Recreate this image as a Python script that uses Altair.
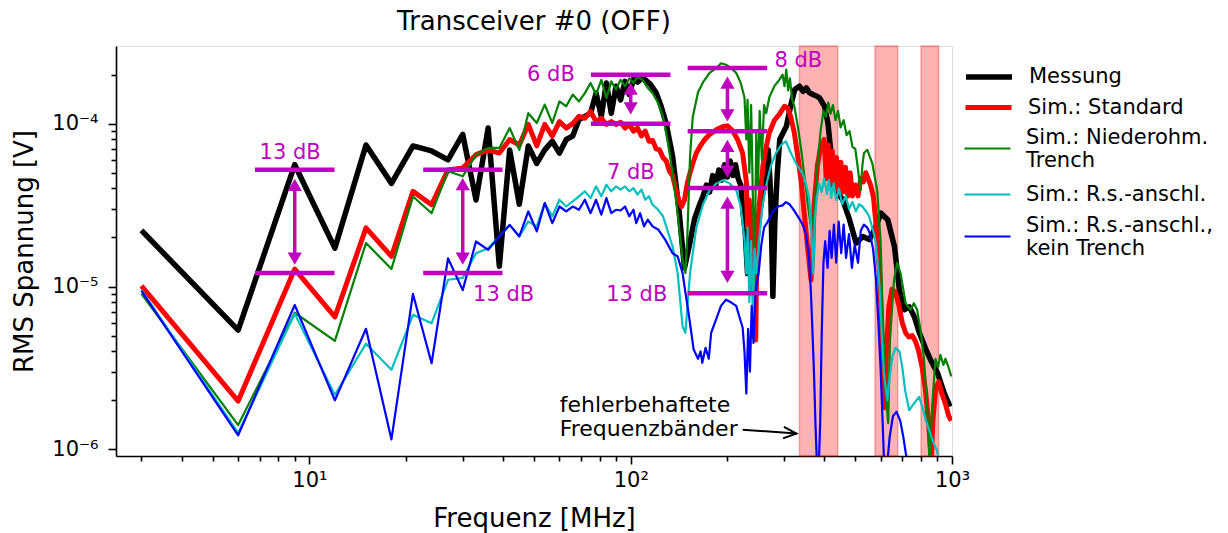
import altair as alt
import pandas as pd

# ---------------- data ----------------
SERIES = ["Messung", "Sim.: Standard", "Sim.: Niederohm.|Trench",
          "Sim.: R.s.-anschl.", "Sim.: R.s.-anschl.,|kein Trench"]
COLORS = ["#000000", "#ff0000", "#008000", "#00bfbf", "#0000ff"]
WIDTHS = [5.5, 5.0, 2.2, 2.2, 2.2]

MESSUNG = [
    (3, 2.21e-5), (6, 5.4e-6), (9, 5.6e-5), (12, 1.72e-5), (15, 7.4e-5), (18, 4.3e-5), (21, 7.3e-5), (24, 6.8e-5),
    (27, 6.0e-5), (30, 8.6e-5), (33, 3.4e-5), (36, 9.4e-5), (39, 1.33e-5), (42, 6.9e-5), (45, 3.2e-5), (48, 7.3e-5),
    (51, 5.7e-5), (54, 6.9e-5), (57, 7.8e-5), (60, 6.6e-5), (63, 8.0e-5), (66, 8.4e-5), (69, 1.06e-4), (72, 1.11e-4),
    (75, 1.16e-4), (78, 1.54e-4), (81, 1.11e-4), (84, 1.78e-4), (87, 1.16e-4), (90, 1.70e-4), (93, 1.40e-4), (96, 1.82e-4),
    (99, 1.51e-4), (102, 1.88e-4), (105, 1.80e-4), (109, 1.92e-4), (115, 1.75e-4), (120, 1.55e-4), (124, 1.30e-4),
    (129, 1.0e-4), (135, 6.3e-5), (141, 3.1e-5), (147, 1.3e-5), (152, 1.76e-5), (158, 2.6e-5), (164, 3.2e-5),
    (168, 3.6e-5), (172, 4.2e-5), (176, 3.8e-5), (180, 4.8e-5), (184, 4.2e-5), (188, 5.2e-5), (192, 4.5e-5),
    (196, 5.6e-5), (200, 4.7e-5), (204, 5.9e-5), (208, 4.8e-5), (212, 5.6e-5), (216, 4.6e-5), (220, 4.2e-5),
    (223, 3.0e-5), (227, 2.2e-5), (231, 1.2e-5), (235, 2.3e-5), (239, 1.0e-5), (243, 9.0e-6), (247, 1.9e-5),
    (252, 2.8e-5), (258, 3.9e-5), (263, 5.5e-5), (268, 6.9e-5), (273, 3.5e-5), (277, 8.7e-6), (281, 2.5e-5),
    (286, 5.0e-5), (291, 8.0e-5), (298, 8.8e-5), (305, 9.6e-5), (315, 1.3e-4), (324, 1.62e-4), (335, 1.70e-4),
    (344, 1.58e-4), (352, 1.66e-4), (360, 1.55e-4), (369, 1.51e-4), (378, 1.48e-4), (387, 1.44e-4), (401, 1.28e-4),
    (411, 1.01e-4), (421, 6.3e-5), (436, 3.9e-5), (457, 3.4e-5), (479, 2.6e-5), (503, 1.85e-5), (528, 2.03e-5),
    (553, 1.94e-5), (580, 2.34e-5), (601, 2.82e-5), (631, 2.57e-5), (662, 1.76e-5), (686, 9.5e-6), (711, 7.2e-6),
    (737, 7.5e-6), (764, 6.5e-6), (791, 5.2e-6), (830, 4.1e-6), (860, 3.5e-6), (902, 2.94e-6), (946, 2.21e-6),
    (986, 1.83e-6),
]

STANDARD = [
    (3, 1.01e-5), (6, 1.98e-6), (9, 1.28e-5), (12, 6.5e-6), (15, 2.29e-5), (18, 1.53e-5), (21, 3.84e-5), (24, 3.18e-5),
    (27, 5.2e-5), (30, 5.35e-5), (33, 6.45e-5), (36, 6.9e-5), (39, 6.6e-5), (42, 8.0e-5), (45, 7.4e-5), (48, 9.9e-5),
    (51, 7.3e-5), (54, 9.9e-5), (57, 8.4e-5), (60, 1.03e-4), (63, 9.4e-5), (66, 1.0e-4), (69, 1.11e-4), (72, 1.08e-4),
    (75, 1.19e-4), (78, 1.03e-4), (81, 1.08e-4), (84, 9.9e-5), (87, 1.03e-4), (90, 9.9e-5), (93, 1.02e-4), (96, 9.4e-5),
    (99, 9.9e-5), (102, 9.0e-5), (105, 9.4e-5), (108, 8.4e-5), (111, 9.0e-5), (114, 7.8e-5), (117, 7.9e-5), (120, 7.0e-5),
    (123, 6.9e-5), (126, 6.2e-5), (129, 5.9e-5), (132, 5.1e-5), (135, 4.8e-5), (138, 4.0e-5), (141, 3.4e-5), (144, 3.1e-5),
    (147, 3.4e-5), (150, 4.3e-5), (153, 5.0e-5), (156, 5.7e-5), (160, 6.6e-5), (164, 7.2e-5), (170, 8.0e-5), (176, 8.6e-5),
    (185, 9.2e-5), (194, 9.6e-5), (200, 9.7e-5), (208, 9.0e-5), (215, 8.0e-5), (223, 6.6e-5), (229, 4.4e-5), (231, 2.3e-5),
    (234, 3.4e-5), (237, 1.5e-5), (240, 2.8e-5), (243, 7.5e-6), (245, 4.7e-6), (247, 1.9e-5), (251, 3.1e-5), (258, 5.5e-5),
    (264, 7.2e-5), (270, 8.8e-5), (280, 1.05e-4), (290, 1.14e-4), (301, 1.28e-4), (308, 1.25e-4), (315, 1.1e-4),
    (323, 8.8e-5), (331, 6.3e-5), (339, 4.5e-5), (347, 2.8e-5), (355, 1.76e-5), (364, 1.1e-5), (368, 1.5e-5),
    (372, 3.1e-5), (381, 5.5e-5), (390, 7.2e-5), (400, 8.0e-5), (406, 4.6e-5), (412, 7.4e-5), (418, 4.2e-5),
    (424, 6.8e-5), (430, 4.0e-5), (437, 6.2e-5), (444, 3.9e-5), (451, 5.8e-5), (458, 3.8e-5), (466, 5.4e-5),
    (474, 3.6e-5), (482, 5.0e-5), (490, 3.6e-5), (500, 4.2e-5), (510, 3.6e-5), (520, 4.6e-5), (530, 4.4e-5),
    (539, 5.0e-5), (548, 4.6e-5), (558, 4.2e-5), (570, 3.5e-5), (585, 2.0e-5), (595, 1.2e-5), (603, 6.0e-6),
    (610, 2.9e-6), (617, 1.8e-6), (625, 4.0e-6), (636, 7.5e-6), (650, 9.6e-6), (667, 9.2e-6), (684, 7.6e-6),
    (700, 6.0e-6), (717, 5.2e-6), (734, 4.9e-6), (752, 5.0e-6), (770, 4.6e-6), (788, 4.0e-6), (807, 3.2e-6),
    (827, 2.3e-6), (847, 1.4e-6), (862, 8.5e-7), (872, 1.5e-6), (890, 2.4e-6), (910, 2.6e-6), (930, 2.2e-6),
    (954, 1.9e-6), (977, 1.6e-6), (995, 1.5e-6),
]

NIEDEROHM = [
    (3, 9.0e-6), (6, 1.41e-6), (9, 6.9e-6), (12, 4.64e-6), (15, 1.85e-5), (18, 1.28e-5), (21, 3.57e-5), (24, 2.82e-5),
    (27, 5.1e-5), (30, 4.75e-5), (33, 6.45e-5), (36, 7.1e-5), (39, 7.1e-5), (42, 9.4e-5), (45, 6.9e-5), (48, 1.16e-4),
    (51, 1.01e-4), (54, 1.31e-4), (57, 1.01e-4), (60, 1.37e-4), (63, 1.28e-4), (66, 1.51e-4), (69, 1.37e-4),
    (72, 1.54e-4), (75, 1.78e-4), (78, 1.51e-4), (81, 1.86e-4), (84, 1.44e-4), (87, 1.82e-4), (90, 1.62e-4),
    (93, 1.86e-4), (96, 1.70e-4), (99, 1.90e-4), (102, 1.78e-4), (105, 1.95e-4), (109, 1.85e-4), (113, 1.66e-4),
    (117, 1.54e-4), (121, 1.37e-4), (126, 1.11e-4), (130, 8.0e-5), (135, 5.0e-5), (140, 2.8e-5), (145, 1.46e-5),
    (148, 1.21e-5), (150, 2.0e-5), (153, 6.3e-5), (156, 1.1e-4), (162, 1.56e-4), (168, 1.8e-4), (176, 2.05e-4),
    (185, 2.2e-4), (191, 2.35e-4), (198, 2.3e-4), (205, 2.2e-4), (213, 2.05e-4), (220, 1.78e-4), (226, 1.45e-4),
    (229, 8.0e-5), (231, 1.4e-4), (234, 5.0e-5), (237, 1.3e-4), (240, 3.5e-5), (243, 1.2e-5), (246, 9.0e-5),
    (249, 4.0e-5), (252, 1.2e-4), (256, 6.0e-5), (260, 1.3e-4), (264, 1.16e-4), (270, 1.45e-4), (280, 1.7e-4),
    (290, 1.86e-4), (297, 2.0e-4), (301, 1.7e-4), (305, 2.15e-4), (309, 1.6e-4), (313, 1.9e-4), (318, 1.4e-4),
    (323, 1.28e-4), (331, 9.7e-5), (339, 7.0e-5), (347, 4.8e-5), (355, 3.3e-5), (364, 2.3e-5), (372, 2.8e-5),
    (381, 5.5e-5), (390, 9.0e-5), (398, 1.2e-4), (405, 1.1e-4), (412, 1.35e-4), (419, 1.15e-4), (426, 1.3e-4),
    (434, 1.05e-4), (442, 1.2e-4), (450, 9.5e-5), (460, 1.05e-4), (470, 8.5e-5), (480, 9.0e-5), (490, 7.2e-5),
    (500, 7.0e-5), (510, 5.2e-5), (519, 3.9e-5), (526, 5.5e-5), (532, 6.6e-5), (545, 6.9e-5), (565, 5.7e-5),
    (585, 3.9e-5), (599, 1.94e-5), (610, 6.0e-6), (621, 2.3e-6), (633, 1.45e-6), (641, 4.7e-6), (660, 1.1e-5),
    (675, 1.4e-5), (692, 1.2e-5), (717, 7.9e-6), (743, 7.2e-6), (761, 7.9e-6), (779, 7.2e-6), (798, 5.4e-6),
    (817, 3.7e-6), (837, 1.8e-6), (851, 8.5e-7), (867, 1.8e-6), (888, 3.6e-6), (905, 3.2e-6), (920, 3.8e-6),
    (940, 3.3e-6), (954, 3.6e-6), (975, 3.2e-6), (995, 2.8e-6),
]

RS_ANSCHL = [
    (3, 9.5e-6), (6, 1.26e-6), (9, 6.8e-6), (12, 2.16e-6), (15, 4.45e-6), (18, 3.08e-6), (21, 6.7e-6), (24, 5.95e-6),
    (27, 1.10e-5), (30, 1.13e-5), (33, 1.60e-5), (36, 1.72e-5), (39, 2.03e-5), (42, 2.39e-5), (45, 2.03e-5),
    (48, 2.51e-5), (51, 2.34e-5), (54, 3.25e-5), (57, 2.7e-5), (60, 3.41e-5), (63, 3.1e-5), (66, 3.33e-5),
    (69, 3.58e-5), (72, 3.84e-5), (75, 3.49e-5), (78, 4.12e-5), (81, 3.58e-5), (84, 4.22e-5), (87, 3.84e-5),
    (90, 4.12e-5), (93, 3.93e-5), (96, 4.12e-5), (99, 3.84e-5), (102, 4.02e-5), (105, 3.67e-5), (108, 3.93e-5),
    (111, 3.41e-5), (114, 3.58e-5), (117, 3.18e-5), (121, 3.0e-5), (126, 2.7e-5), (130, 2.23e-5), (135, 1.76e-5),
    (140, 1.21e-5), (145, 5.7e-6), (148, 5.2e-6), (153, 1.21e-5), (160, 2.3e-5), (168, 3.2e-5), (176, 3.9e-5),
    (185, 4.3e-5), (194, 4.5e-5), (203, 4.3e-5), (213, 3.9e-5), (220, 3.1e-5), (226, 1.94e-5), (229, 1.2e-5),
    (231, 2.3e-5), (234, 8.0e-6), (237, 1.9e-5), (240, 6.5e-6), (243, 1.7e-5), (246, 1.2e-5), (251, 1.94e-5),
    (257, 3.1e-5), (264, 4.2e-5), (273, 5.5e-5), (283, 6.6e-5), (294, 7.4e-5), (304, 7.8e-5), (311, 7.0e-5),
    (319, 6.3e-5), (327, 5.7e-5), (335, 5.3e-5), (343, 4.9e-5), (351, 4.3e-5), (359, 3.5e-5), (365, 2.2e-5),
    (370, 1.2e-5), (374, 2.6e-5), (380, 3.6e-5), (386, 4.3e-5), (393, 3.8e-5), (400, 4.6e-5), (408, 3.7e-5),
    (414, 4.5e-5), (421, 3.5e-5), (428, 4.3e-5), (436, 3.4e-5), (445, 4.0e-5), (455, 3.2e-5), (467, 3.6e-5),
    (478, 3.0e-5), (490, 3.3e-5), (502, 2.9e-5), (514, 3.2e-5), (526, 3.1e-5), (540, 2.9e-5), (552, 2.7e-5),
    (565, 2.3e-5), (578, 1.9e-5), (585, 1.5e-5), (595, 1.0e-5), (605, 5.0e-6), (614, 2.9e-6), (629, 2.0e-6),
    (641, 2.9e-6), (652, 3.7e-6), (667, 4.2e-6), (686, 4.0e-6), (700, 3.2e-6), (715, 2.3e-6), (736, 1.74e-6),
    (760, 1.9e-6), (790, 2.1e-6), (810, 1.8e-6), (830, 1.5e-6), (850, 1.3e-6), (875, 1.1e-6), (898, 9.8e-7),
    (915, 8.0e-7),
]

KEIN_TRENCH = [
    (3, 9.4e-6), (6, 1.22e-6), (9, 7.7e-6), (12, 2.0e-6), (15, 5.5e-6), (18, 1.15e-6), (21, 9.0e-6), (24, 3.38e-6),
    (27, 1.49e-5), (30, 9.5e-6), (33, 1.89e-5), (36, 1.68e-5), (39, 2.03e-5), (42, 2.39e-5), (45, 2.03e-5),
    (48, 2.89e-5), (51, 2.18e-5), (54, 3.25e-5), (57, 2.45e-5), (60, 3.1e-5), (63, 2.89e-5), (66, 3.1e-5),
    (69, 2.96e-5), (72, 3.41e-5), (75, 2.82e-5), (78, 3.41e-5), (81, 2.76e-5), (84, 3.49e-5), (87, 2.82e-5),
    (90, 2.96e-5), (93, 2.93e-5), (96, 3.1e-5), (99, 2.7e-5), (102, 2.96e-5), (104, 2.45e-5), (107, 2.82e-5),
    (110, 2.34e-5), (113, 2.57e-5), (117, 2.34e-5), (122, 2.23e-5), (128, 1.94e-5), (135, 1.6e-5), (140, 1.53e-5),
    (145, 1.21e-5), (148, 9.2e-6), (152, 6.5e-6), (157, 4.1e-6), (162, 3.6e-6), (165, 4.0e-6), (167, 3.4e-6),
    (171, 4.2e-6), (175, 3.6e-6), (178, 5.2e-6), (185, 6.4e-6), (191, 7.6e-6), (198, 8.3e-6), (205, 8.0e-6),
    (213, 7.6e-6), (218, 6.5e-6), (223, 5.6e-6), (226, 4.0e-6), (229, 2.2e-6), (232, 5.5e-6), (235, 3.0e-6),
    (238, 7.6e-6), (241, 4.5e-6), (245, 9.5e-6), (250, 1.2e-5), (255, 1.8e-5), (260, 2.3e-5), (267, 2.5e-5),
    (277, 2.9e-5), (287, 3.1e-5), (297, 3.15e-5), (304, 3.3e-5), (312, 3.2e-5), (320, 3.0e-5), (327, 2.8e-5),
    (335, 2.6e-5), (343, 2.4e-5), (351, 2.1e-5), (359, 1.5e-5), (364, 9.0e-6), (368, 5.2e-6), (372, 2.9e-6),
    (376, 1.4e-6), (380, 8.0e-7), (385, 8.0e-7), (389, 1.5e-6), (393, 5.0e-6), (398, 1.4e-5), (403, 1.9e-5),
    (410, 1.3e-5), (416, 2.2e-5), (422, 1.5e-5), (429, 2.4e-5), (436, 1.4e-5), (444, 2.5e-5), (452, 1.6e-5),
    (460, 2.4e-5), (468, 1.5e-5), (478, 2.1e-5), (488, 1.3e-5), (498, 1.8e-5), (510, 1.4e-5), (520, 2.2e-5),
    (532, 2.4e-5), (545, 2.3e-5), (556, 2.1e-5), (568, 1.7e-5), (580, 1.1e-5), (590, 6.0e-6), (600, 3.0e-6),
    (608, 1.5e-6), (615, 8.0e-7), (628, 8.0e-7), (640, 1.2e-6), (655, 1.6e-6), (672, 1.7e-6), (690, 1.5e-6),
    (705, 1.2e-6), (718, 9.5e-7), (730, 8.0e-7),
]

# faulty frequency bands (MHz)
BAND_LO = [335, 576, 801]
BAND_HI = [441, 678, 909]

# magenta level lines
HL_F1 = [6.77, 6.77, 22.6, 22.6, 75.2, 75.2, 150.4, 150.4, 150.4, 150.4]
HL_F2 = [11.97, 11.97, 39.9, 39.9, 133, 133, 266, 266, 266, 266]
HL_V = [5.21e-5, 1.21e-5, 5.21e-5, 1.21e-5, 2.0e-4, 1.0e-4, 2.2e-4, 8.97e-5, 4.03e-5, 9.1e-6]

# magenta double arrows
AR_F = [9, 30, 100, 200, 200, 200]
AR_TOP = [4.59e-5, 4.64e-5, 1.79e-4, 1.95e-4, 7.97e-5, 3.57e-5]
AR_BOT = [1.36e-5, 1.36e-5, 1.14e-4, 1.03e-4, 4.66e-5, 1.05e-5]

# magenta labels
TXT = ["13 dB", "13 dB", "6 dB", "8 dB", "7 dB", "13 dB"]
TXT_F = [8.71, 32.3, 67, 280, 118.8, 130]
TXT_V = [6.64e-5, 8.9e-6, 2.0e-4, 2.41e-4, 5.0e-5, 8.9e-6]
TXT_ALIGN = ["center", "left", "right", "left", "right", "right"]

NOTE_TEXT = ["fehlerbehaftete\nFrequenzbänder"]
NOTE_F = [60.1]
NOTE_V = [1.875e-6]
NOTE_ARROW_F = [223]
NOTE_ARROW_V = [1.32e-6]
NOTE_ARROW_F2 = [328]
NOTE_ARROW_V2 = [1.25e-6]

X_TICKS = [3, 4, 5, 6, 7, 8, 9, 10, 20, 30, 40, 50, 60, 70, 80, 90, 100,
           200, 300, 400, 500, 600, 700, 800, 900, 1000]
Y_TICKS = [1e-6, 2e-6, 3e-6, 4e-6, 5e-6, 6e-6, 7e-6, 8e-6, 9e-6,
           1e-5, 2e-5, 3e-5, 4e-5, 5e-5, 6e-5, 7e-5, 8e-5, 9e-5, 1e-4, 2e-4]
X_LABELS = {1: "10¹", 2: "10²", 3: "10³"}
Y_LABELS = {-4: "10⁻⁴", -5: "10⁻⁵", -6: "10⁻⁶"}

# legend row placement (pixels, relative to plot origin)
LEG_X = 847
LEG_Y = [5, 36, 78, 124, 166]
LEG_BASELINE = ["middle", "middle", "line-bottom", "middle", "line-bottom"]

# ---------------- chart ----------------
FONT = "DejaVu Sans"
MAG = "#bf00bf"
LOG10 = "(log(datum.value)/LN10)"
MAJOR_TEST = f"abs({LOG10} - round({LOG10})) < 0.01"


def label_expr(mapping):
    parts = [f"abs({LOG10} - ({k})) < 0.01 ? '{v}'" for k, v in mapping.items()]
    return " : ".join(parts) + " : ''"


common_axis = dict(
    labelFont=FONT, labelFontSize=21, labelColor="black",
    titleFont=FONT, titleFontSize=26, titleFontWeight="normal", titleColor="black",
    domainColor="black", domainWidth=1.6, tickColor="black", tickWidth=1.6,
    tickSize={"condition": {"test": MAJOR_TEST, "value": 8}, "value": 5},
    grid=False, labelOverlap=False, labelFlush=False,
)

xaxis = alt.Axis(values=X_TICKS, labelExpr=label_expr(X_LABELS), labelPadding=5,
                 titlePadding=15, **common_axis)
yaxis = alt.Axis(values=Y_TICKS, labelExpr=label_expr(Y_LABELS), labelPadding=10,
                 titlePadding=14, **common_axis)

xs = alt.Scale(type="log", domain=[2.5, 1000], nice=False)
ys = alt.Scale(type="log", domain=[9.1e-7, 3.0e-4], nice=False)
X = alt.X("f:Q", scale=xs, axis=xaxis, title="Frequenz [MHz]")
Y = alt.Y("v:Q", scale=ys, axis=yaxis, title="RMS Spannung [V]")

bands = alt.Chart(pd.DataFrame({"f": BAND_LO, "f2": BAND_HI})).mark_rect(
    fill="#ff0000", fillOpacity=0.3, stroke="#ff0000", strokeOpacity=0.3, strokeWidth=1.5
).encode(x=X, x2="f2")

line_layers = []
for i, (name, data) in enumerate(zip(SERIES, [MESSUNG, STANDARD, NIEDEROHM, RS_ANSCHL, KEIN_TRENCH])):
    df = pd.DataFrame(data, columns=["f", "v"])
    df["series"] = name
    leg = alt.Legend(
        title=None, orient="none", legendX=LEG_X, legendY=LEG_Y[i], padding=0,
        symbolType="stroke", symbolSize=2116, symbolStrokeWidth=WIDTHS[i],
        labelFont=FONT, labelFontSize=21, labelColor="black", labelOffset=14,
        labelLimit=400, labelExpr="split(datum.label, '|')", labelBaseline=LEG_BASELINE[i],
    )
    line_layers.append(
        alt.Chart(df).mark_line(clip=True, strokeJoin="round", strokeWidth=WIDTHS[i])
        .encode(x=X, y=Y,
                color=alt.Color("series:N", scale=alt.Scale(domain=[name], range=[COLORS[i]]), legend=leg))
    )

hlines = alt.Chart(pd.DataFrame({"f": HL_F1, "f2": HL_F2, "v": HL_V})).mark_rule(
    color=MAG, strokeWidth=4.5).encode(x=X, x2="f2", y=Y)

ar_df = pd.DataFrame({"f": AR_F, "v": AR_TOP, "v2": AR_BOT})
shafts = alt.Chart(ar_df).mark_rule(color=MAG, strokeWidth=3.5, yOffset=6, y2Offset=-6).encode(
    x=X, y=Y, y2="v2")
heads_up = alt.Chart(pd.DataFrame({"f": AR_F, "v": AR_TOP})).mark_point(
    shape="triangle-up", size=200, filled=True, color=MAG, opacity=1, yOffset=6.1).encode(x=X, y=Y)
heads_dn = alt.Chart(pd.DataFrame({"f": AR_F, "v": AR_BOT})).mark_point(
    shape="triangle-down", size=200, filled=True, color=MAG, opacity=1, yOffset=-6.1).encode(x=X, y=Y)

txt_df = pd.DataFrame({"f": TXT_F, "v": TXT_V, "t": TXT, "a": TXT_ALIGN})
text_layers = []
for al in ["left", "center", "right"]:
    text_layers.append(
        alt.Chart(txt_df[txt_df["a"] == al]).mark_text(
            font=FONT, fontSize=21, color=MAG, align=al, baseline="middle")
        .encode(x=X, y=Y, text="t:N")
    )

note = alt.Chart(pd.DataFrame({"f": NOTE_F, "v": NOTE_V, "t": NOTE_TEXT})).mark_text(
    font=FONT, fontSize=22, color="black", align="left", baseline="middle",
    lineBreak="\n", lineHeight=24).encode(x=X, y=Y, text="t:N")
note_arrow = alt.Chart(pd.DataFrame({"f": NOTE_ARROW_F, "v": NOTE_ARROW_V,
                                     "f2": NOTE_ARROW_F2, "v2": NOTE_ARROW_V2})).mark_rule(
    color="black", strokeWidth=2).encode(x=X, x2="f2", y=Y, y2="v2")
note_head = alt.Chart(pd.DataFrame({"f": NOTE_ARROW_F2, "v": NOTE_ARROW_V2})).mark_point(
    shape="M-2,-0.9L0,0L-2,0.9", size=169, filled=False, stroke="black", strokeWidth=2,
    opacity=1, angle=4.2).encode(x=X, y=Y)

chart = alt.layer(
    bands, *line_layers, hlines, shafts, heads_up, heads_dn, *text_layers,
    note, note_arrow, note_head,
).resolve_scale(color="independent").properties(
    width=836, height=410,
    title=alt.TitleParams("Transceiver #0 (OFF)", font=FONT, fontSize=26,
                          fontWeight="normal", color="black", anchor="middle", offset=10),
    autosize=alt.AutoSizeParams(type="none"),
    padding={"left": 116, "top": 46, "right": 276, "bottom": 77},
).configure_view(stroke="black", strokeWidth=1.6).configure(font=FONT)

chart.save("out.html", embed_options={"renderer": "svg", "actions": False})
